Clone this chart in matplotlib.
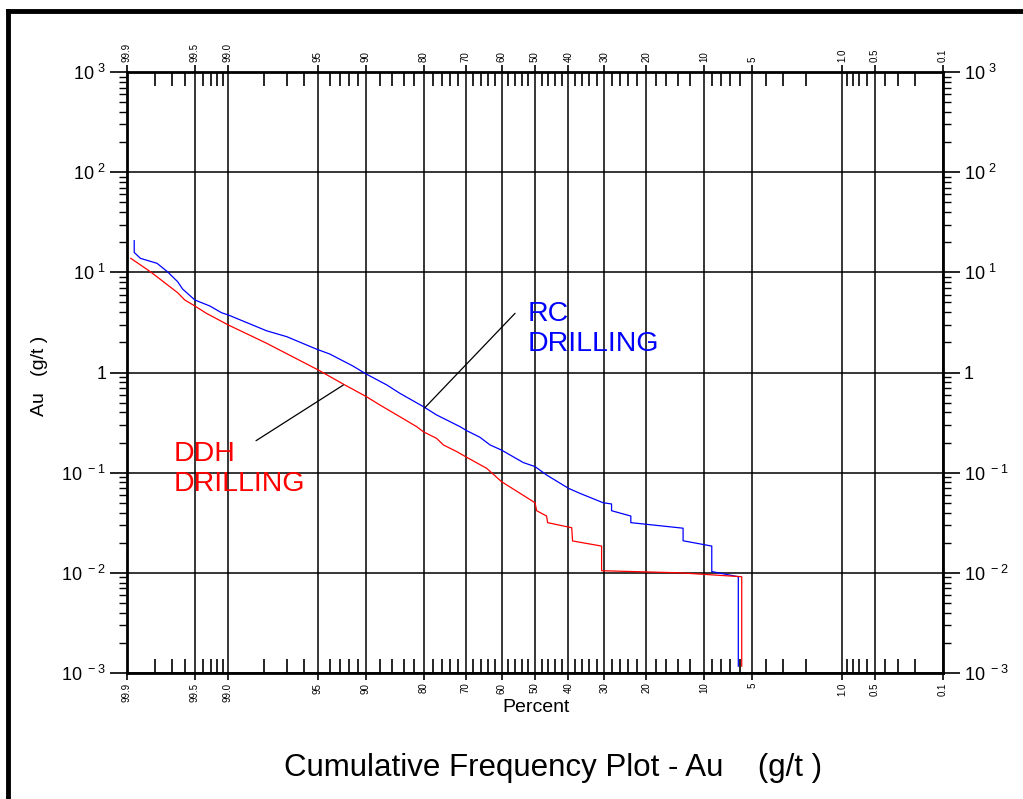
import math
import numpy as np
import matplotlib
matplotlib.use("Agg")
import matplotlib.pyplot as plt
from matplotlib.lines import Line2D
from matplotlib.ticker import FixedLocator, FixedFormatter, LogLocator, FuncFormatter

plt.rcParams['font.family'] = ['Liberation Sans', 'DejaVu Sans']

# RC drilling curve (percent, Au g/t)
rc_pct = [99.88, 99.88, 99.86, 99.79, 99.73, 99.66, 99.62, 99.50, 99.31, 99.12, 98.99,
          97.9, 97.0, 95.1, 94.0, 91.6, 90.1, 86.9, 84.7, 80.1, 77.2, 71.5, 69.7, 66.2,
          63.3, 60.0, 53.5, 50.0, 46.5, 40.0, 36.7, 30.3, 28.1, 28.1, 23.4, 23.4, 19.9,
          13.1, 13.1, 9.03, 9.03, 6.18, 6.18]
rc_au = [20.7, 15.8, 13.8, 12.3, 10.1, 8.06, 6.82, 5.29, 4.61, 3.95, 3.75,
         2.61, 2.28, 1.71, 1.53, 1.16, 0.98, 0.75, 0.62, 0.456, 0.377, 0.288, 0.262, 0.226,
         0.189, 0.168, 0.126, 0.115, 0.0948, 0.0698, 0.0622, 0.0501, 0.0487, 0.0417, 0.0369, 0.0317, 0.0305,
         0.0279, 0.0209, 0.0185, 0.0103, 0.00914, 0.00117]

# DDH drilling curve
ddh_pct = [99.89, 99.82, 99.66, 99.60, 99.50, 99.36, 98.99, 97.9, 94.97, 92.5, 89.9, 88.0,
           84.7, 81.5, 80.1, 77.2, 75.6, 72.3, 69.7, 64.3, 60.0, 54.5, 50.0, 49.5, 46.5,
           46.2, 39.05, 38.8, 30.7, 30.7, 13.6, 5.87, 5.87]
ddh_au = [13.8, 10.1, 6.26, 5.29, 4.61, 3.90, 2.98, 1.96, 1.06, 0.75, 0.573, 0.474,
          0.362, 0.288, 0.256, 0.220, 0.189, 0.162, 0.142, 0.1106, 0.0813, 0.0622, 0.0501, 0.0417, 0.0369,
          0.0317, 0.0282, 0.0208, 0.0185, 0.0105, 0.0100, 0.00914, 0.00117]

pct_major = [99.9, 99.5, 99.0, 95, 90, 80, 70, 60, 50, 40, 30, 20, 10, 5, 1.0, 0.5, 0.1]
pct_labels = ['99.9', '99.5', '99.0', '95', '90', '80', '70', '60', '50', '40', '30',
              '20', '10', '5', '1.0', '0.5', '0.1']
pct_minor = [99.8, 99.7, 99.6, 99.4, 99.3, 99.2, 99.1, 98, 97, 96, 94, 93, 92, 91,
             88, 86, 84, 82, 78, 76, 74, 72, 68, 66, 64, 62, 58, 56, 54, 52,
             48, 46, 44, 42, 38, 36, 34, 32, 28, 26, 24, 22, 18, 16, 14, 12,
             9, 8, 7, 6, 4, 3, 2, 0.9, 0.8, 0.7, 0.6, 0.4, 0.3, 0.2]


# normal probability scale (Acklam approximation for the inverse)
A = [-3.969683028665376e+01, 2.209460984245205e+02, -2.759285104469687e+02,
     1.383577518672690e+02, -3.066479806614716e+01, 2.506628277459239e+00]
B = [-5.447609879822406e+01, 1.615858368580409e+02, -1.556989798598866e+02,
     6.680131188771972e+01, -1.328068155288572e+01]
C = [-7.784894002430293e-03, -3.223964580411365e-01, -2.400758277161838e+00,
     -2.549732539343734e+00, 4.374664141464968e+00, 2.938163982698783e+00]
D = [7.784695709041462e-03, 3.224671290700398e-01, 2.445134137142996e+00,
     3.754408661907416e+00]


def norm_ppf(p):
    p = np.clip(np.asarray(p, float), 1e-12, 1 - 1e-12)
    q = p - 0.5
    r = q * q
    mid = (((((A[0]*r+A[1])*r+A[2])*r+A[3])*r+A[4])*r+A[5])*q / \
          (((((B[0]*r+B[1])*r+B[2])*r+B[3])*r+B[4])*r+1)
    ql = np.sqrt(-2 * np.log(np.minimum(p, 1 - p)))
    tail = (((((C[0]*ql+C[1])*ql+C[2])*ql+C[3])*ql+C[4])*ql+C[5]) / \
           ((((D[0]*ql+D[1])*ql+D[2])*ql+D[3])*ql+1)
    out = np.where(p < 0.02425, tail, np.where(p > 1 - 0.02425, -tail, mid))
    return out


_erf = np.vectorize(math.erf)


def fwd(pct):
    return norm_ppf(np.asarray(pct, float) / 100.0)


def inv(z):
    return 50.0 * (1 + _erf(np.asarray(z, float) / math.sqrt(2)))


fig = plt.figure(figsize=(10.23, 7.99), dpi=100)
ax = fig.add_axes([127/1023, 1 - 673/799, 816/1023, 601/799])
ax.set_xscale('function', functions=(fwd, inv))
ax.set_yscale('log')

ax.plot(rc_pct, rc_au, color='#0000ff', lw=0.9)
ax.plot(ddh_pct, ddh_au, color='#ff0000', lw=0.9)

ax.set_xlim(99.9, 0.1)
ax.set_ylim(1e-3, 1e3)

ax.xaxis.set_major_locator(FixedLocator(pct_major))
ax.xaxis.set_major_formatter(FixedFormatter(pct_labels))
ax.xaxis.set_minor_locator(FixedLocator(pct_minor))
ax.xaxis.set_minor_formatter(FixedFormatter([]))

ax.yaxis.set_major_locator(LogLocator(base=10, numticks=10))
ax.yaxis.set_minor_locator(LogLocator(base=10, subs=np.arange(2, 10), numticks=10))


def ylab(v, pos):
    e = int(round(math.log10(v)))
    if e == 0:
        return '1'
    return r'$\mathregular{10^{\ %d}}$' % e


ax.yaxis.set_major_formatter(FuncFormatter(ylab))
ax.yaxis.set_minor_formatter(FixedFormatter([]))

ax.tick_params(axis='x', which='major', direction='out', length=5, width=1.2,
               top=True, bottom=True, labeltop=True, labelbottom=True,
               labelsize=7, labelrotation=90, pad=2)
ax.tick_params(axis='x', which='minor', direction='in', length=10, width=1.2,
               top=True, bottom=True)
ax.tick_params(axis='y', which='major', direction='out', length=12, width=1.2,
               left=True, right=True, labelleft=True, labelright=True,
               labelsize=13, pad=3)
ax.tick_params(axis='y', which='minor', direction='out', length=6, width=1.0,
               left=True, right=True)

ax.grid(True, which='major', color='black', lw=1.1)
for s in ax.spines.values():
    s.set_linewidth(2)
    s.set_zorder(5)

# labels
ax.text(52.1, 5.15, 'RC\nDRILLING', color='#0000ff', fontsize=20.5, va='top', ha='left')
ax.text(99.69, 0.205, 'DDH\nDRILLING', color='#ff0000', fontsize=20.5, va='top', ha='left')
ax.annotate('', xy=(79.8, 0.445), xytext=(56.0, 3.90),
            arrowprops=dict(arrowstyle='-', color='black', lw=0.9, shrinkA=0, shrinkB=0))
ax.annotate('', xy=(92.67, 0.75), xytext=(98.27, 0.2085),
            arrowprops=dict(arrowstyle='-', color='black', lw=0.9, shrinkA=0, shrinkB=0))

fig.text(39/1023, 1 - 376/799, 'Au   (g/t )', rotation=90, fontsize=14, ha='center', va='center')
fig.text(536/1023, 1 - 708/799, 'Percent', fontsize=14, ha='center', va='center')
fig.text(553/1023, 1 - 768/799, 'Cumulative Frequency Plot - Au    (g/t )', fontsize=22.5,
         ha='center', va='center')

# outer frame (top and left)
fig.add_artist(Line2D([8/1023, 1], [1 - 11/799, 1 - 11/799], transform=fig.transFigure,
                      color='black', lw=3.5))
fig.add_artist(Line2D([8/1023, 8/1023], [0, 1 - 11/799], transform=fig.transFigure,
                      color='black', lw=3.5))

fig.savefig('out.png', dpi=100)
